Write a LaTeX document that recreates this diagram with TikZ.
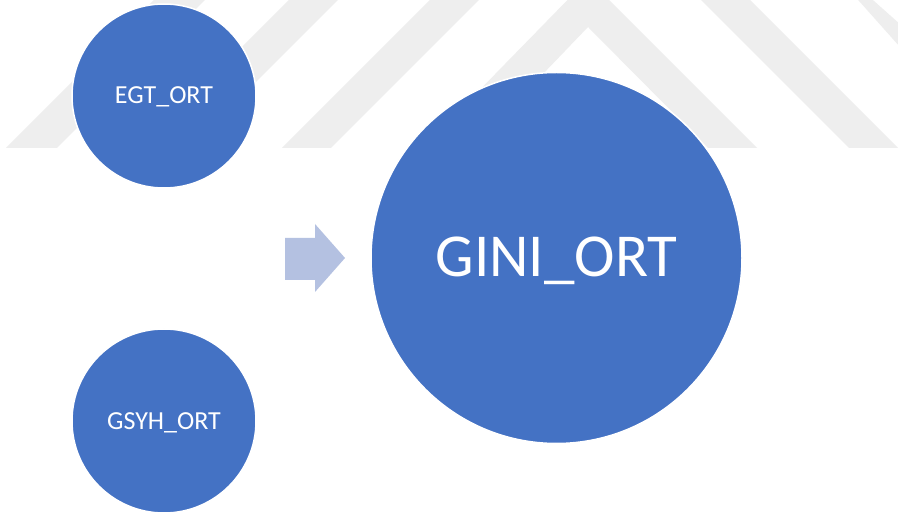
\documentclass[tikz,border=0pt]{standalone}
\usepackage{fontspec}
\setmainfont{Carlito}
\definecolor{circblue}{HTML}{4472C4}
\definecolor{arrowblue}{HTML}{B4C1E1}
\definecolor{wmgray}{HTML}{EEEEEE}
\tikzset{
  bubble/.style={circle, fill=circblue, draw=white, line width=1.5pt, inner sep=0pt},
  smalltext/.style={text=white, font=\fontsize{26}{30}\selectfont, anchor=base, inner sep=0pt},
  bigtext/.style={text=white, font=\fontsize{61}{70}\selectfont, anchor=base, inner sep=0pt},
  wm/.style={fill=wmgray, draw=none}
}
\begin{document}
\begin{tikzpicture}[x=1pt,y=-1pt]
\useasboundingbox (0,0) rectangle (898,518);
\fill[white] (0,0) rectangle (898,518);
% faint watermark chevrons
\begin{scope}
\clip (0,0) rectangle (898,518);
\path[wm] (588,-21) -- (423,148) -- (472,148) -- (588,27) -- (708,148) -- (757,148) -- cycle;
\path[wm] (590,-160) -- (282,148) -- (331,148) -- (590,-111) -- (849,148) -- (898,148) -- cycle;
\path[wm] (590,-301) -- (141,148) -- (190,148) -- (590,-252) -- (1039,148) -- (990,148) -- cycle;
\path[wm] (596,-442) -- (6,148) -- (57,148) -- (596,-391) -- (1180,148) -- (1131,148) -- cycle;
\end{scope}
% circles
\node[bubble, minimum size=184pt] (egt) at (164,96) {};
\node[bubble, minimum size=184pt] (gsyh) at (164,421) {};
\node[bubble, minimum size=371pt] (gini) at (556.5,258) {};
\node[smalltext] (egtlabel) at (164,104) {EGT\_ORT};
\node[smalltext] (gsyhlabel) at (164,430) {GSYH\_ORT};
\node[bigtext] (ginilabel) at (556.5,277) {GINI\_ORT};
% block arrow
\fill[arrowblue] (285,238) -- (315,238) -- (315,224) -- (345,258) -- (315,292) -- (315,280) -- (285,280) -- cycle;
\end{tikzpicture}
\end{document}
